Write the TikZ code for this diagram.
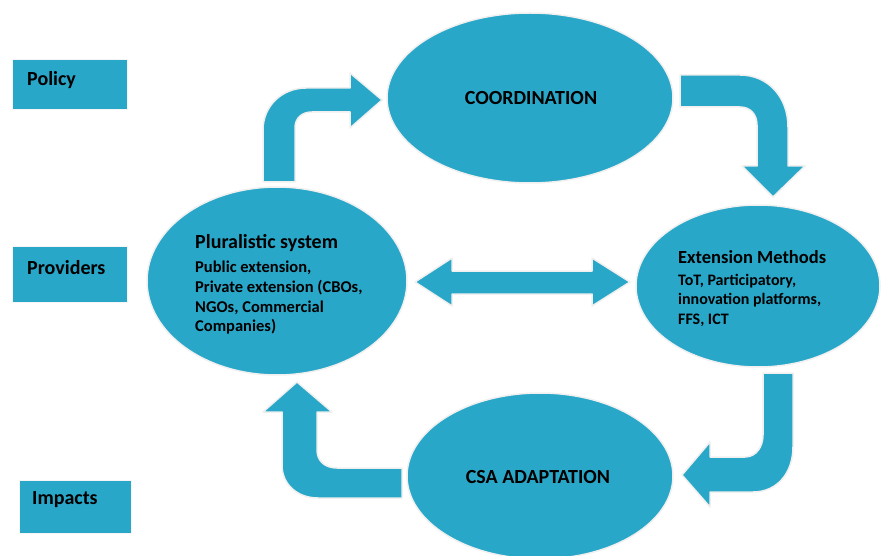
\documentclass[tikz,border=0pt]{standalone}
\usepackage{fontspec}
\setmainfont{Carlito}
\usetikzlibrary{shapes.geometric}
\definecolor{cblue}{RGB}{41,167,201}
\begin{document}
\begin{tikzpicture}[x=1pt,y=-1pt,
  blk/.style={fill=cblue, draw=black!6, line width=1.5pt, line join=round},
  oval/.style={blk, ellipse, inner sep=0pt},
  lbl/.style={font=\bfseries\fontsize{20}{24}\selectfont, text=black, inner sep=0pt},
  sub/.style={font=\bfseries\fontsize{16}{19.5}\selectfont, text=black, inner sep=0pt, align=left},
  side/.style={blk, draw=black!4, line width=1pt}]
\useasboundingbox (0,0) rectangle (881,556);
\clip (0,0) rectangle (881,556);
\fill[white] (0,0) rectangle (881,556);

% side boxes
\draw[side] (12,60) rectangle (127,110);
\node[lbl, anchor=west] (policy) at (27,80) {Policy};
\draw[side] (12,247) rectangle (127,302);
\node[lbl, anchor=west] (providers) at (27,268) {Providers};
\draw[side] (19,480) rectangle (131,533);
\node[lbl, anchor=west] (impacts) at (32,500) {Impacts};

% ellipses
\node[oval, minimum width=286pt, minimum height=170pt] (coord) at (530,98) {};
\node[lbl] (coordt) at (531,98) {COORDINATION};

\node[oval, minimum width=260pt, minimum height=188pt] (plur) at (277,281) {};
\node[lbl, anchor=west] (plurt) at (195,243) {Pluralistic system};
\node[sub, anchor=north west, font=\bfseries\fontsize{16.5}{19.7}\selectfont] (plurs) at (195,261) {Public extension,\\Private extension (CBOs,\\NGOs, Commercial\\Companies)};

\node[oval, minimum width=244pt, minimum height=162pt] (ext) at (758,286) {};
\node[lbl, anchor=west, font=\bfseries\fontsize{18.5}{22}\selectfont] (extt) at (678,257) {Extension Methods};
\node[sub, anchor=north west] (exts) at (678,274) {ToT, Participatory,\\innovation platforms,\\FFS, ICT};

\node[oval, minimum width=266pt, minimum height=166pt] (csa) at (540,476) {};
\node[lbl] (csat) at (538,477) {CSA ADAPTATION};

% block arrows
% plur -> coord
\draw[blk] (263,182) -- (263,130) .. controls (263,106) and (282,88) .. (306,88)
  -- (350,88) -- (350,73) -- (382,100) -- (350,128) -- (350,112) -- (312,112)
  .. controls (302,112) and (295,118) .. (295,128) -- (295,182) -- cycle;
% coord -> ext
\draw[blk] (680,75) -- (740,75) .. controls (768,75) and (788,97) .. (788,127)
  -- (788,166) -- (805,166) -- (773,197) -- (742,166) -- (757,166) -- (757,125)
  .. controls (757,114) and (750,107) .. (740,107) -- (680,107) -- cycle;
% double arrow
\draw[blk] (415,282) -- (452,258) -- (452,271) -- (592,271) -- (592,258) -- (630,282)
  -- (592,306) -- (592,294) -- (452,294) -- (452,306) -- cycle;
% ext -> csa
\draw[blk] (763,373) -- (793,373) -- (793,447) .. controls (793,472) and (778,492) .. (753,492)
  -- (710,492) -- (710,507) -- (682,475) -- (710,442) -- (710,457) -- (745,457)
  .. controls (756,457) and (763,447) .. (763,435) -- cycle;
% csa -> plur
\draw[blk] (402,468) -- (402,498) -- (318,498) .. controls (298,498) and (282,485) .. (282,465)
  -- (282,412) -- (263,412) -- (297,382) -- (332,412) -- (317,412) -- (317,450)
  .. controls (317,461) and (325,468) .. (337,468) -- cycle;
\end{tikzpicture}
\end{document}
